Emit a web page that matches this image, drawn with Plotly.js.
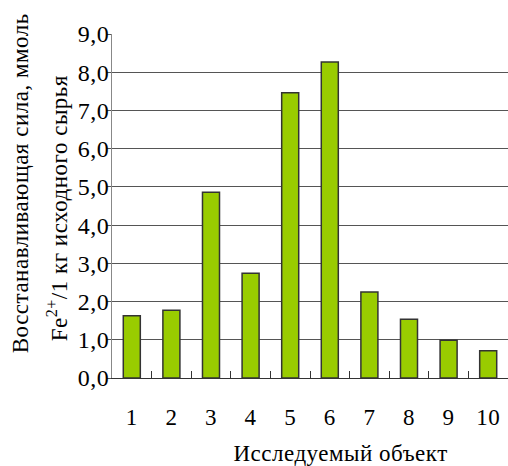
<!DOCTYPE html>
<html>
<head>
<meta charset="utf-8">
<script src="https://cdn.plot.ly/plotly-3.0.1.min.js"></script>
<style>html,body{margin:0;padding:0;background:#fff}#chart{width:508px;height:466px}
#chart svg text{letter-spacing:0.5px}</style>
</head>
<body>
<div id="chart"></div>
<script>
const categories = ["1","2","3","4","5","6","7","8","9","10"];
const values = [1.63, 1.77, 4.86, 2.74, 7.46, 8.27, 2.25, 1.54, 0.99, 0.71];
const yTitleLine1 = "Восстанавливающая сила, ммоль";
const yTitleLine2 = "Fe<sup>2+</sup>/1 кг исходного сырья";
const xTitle = "Исследуемый объект";

const font = "'Liberation Serif', 'Times New Roman', serif";
const L = 112, R = 508, T = 34, B = 378, W = 508, H = 466;
const px = x => (x - L) / (R - L);
const py = y => (B - y) / (B - T);

Plotly.newPlot("chart", [{
  type: "bar",
  x: categories,
  y: values,
  marker: {color: "#99CC00", line: {color: "#333333", width: 1.5}},
  hoverinfo: "none"
}], {
  width: W, height: H,
  margin: {l: L, r: W - R, t: T, b: H - B, pad: 0},
  paper_bgcolor: "#fff", plot_bgcolor: "#fff",
  separators: ", ",
  bargap: 0.57,
  showlegend: false,
  font: {family: font, size: 23, color: "#000"},
  xaxis: {
    type: "category",
    showline: true, linecolor: "#333", linewidth: 1,
    ticks: "inside", tickson: "boundaries", ticklen: 7, tickcolor: "#333",
    ticklabelstandoff: 18,
    showgrid: false, zeroline: false,
    tickfont: {family: font, size: 23, color: "#000"}
  },
  yaxis: {
    range: [0, 9], dtick: 1, tickformat: ".1f",
    showline: true, linecolor: "#888", linewidth: 1,
    ticks: "outside", ticklen: 4, tickcolor: "#555",
    ticklabelstandoff: -7,
    showgrid: true, gridcolor: "#555", gridwidth: 1,
    zeroline: false,
    tickfont: {family: font, size: 24, color: "#000"}
  },
  annotations: [
    {xref: "paper", yref: "paper", x: px(20), y: py(184), text: yTitleLine1, textangle: -90,
     showarrow: false, xanchor: "center", yanchor: "middle", font: {family: font, size: 23, color: "#000"}},
    {xref: "paper", yref: "paper", x: px(57), y: py(208), text: yTitleLine2, textangle: -90,
     showarrow: false, xanchor: "center", yanchor: "middle", font: {family: font, size: 23, color: "#000"}},
    {xref: "paper", yref: "paper", x: px(340), y: py(453), text: xTitle,
     showarrow: false, xanchor: "center", yanchor: "middle", font: {family: font, size: 23, color: "#000"}}
  ]
}, {staticPlot: true});
</script>
</body>
</html>
